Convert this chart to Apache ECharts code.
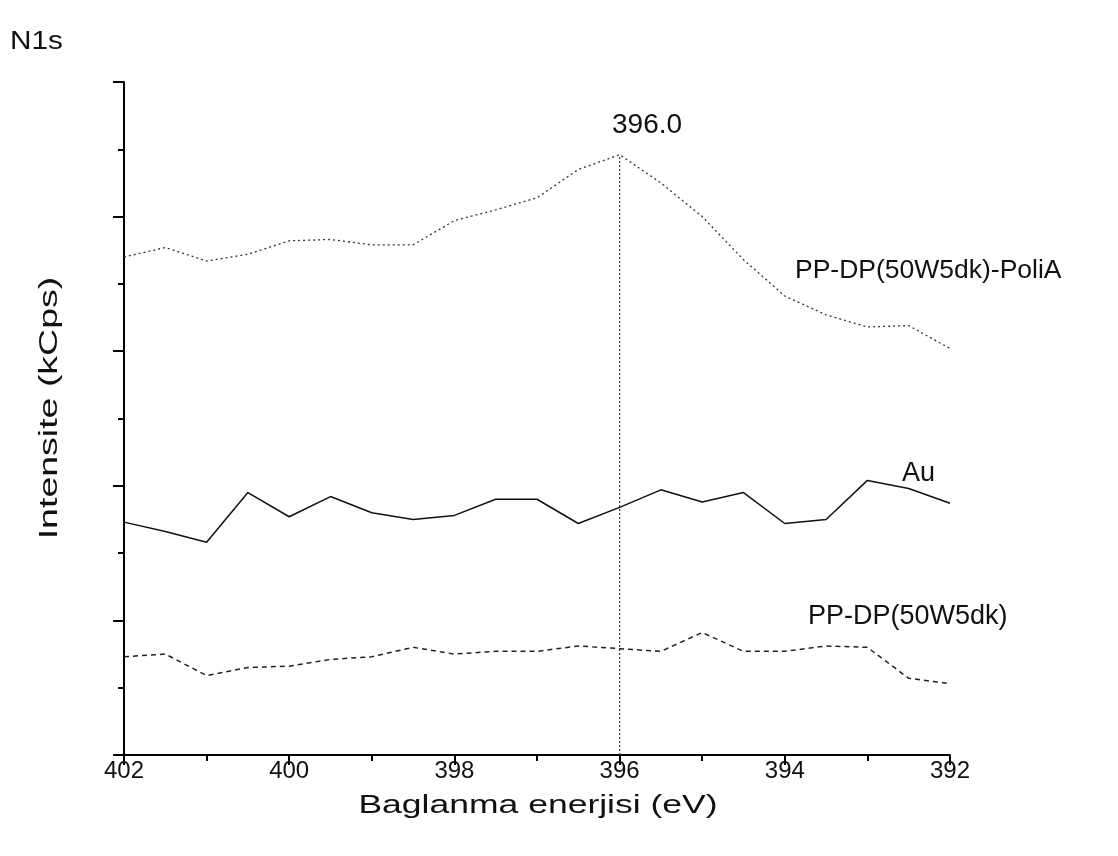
<!DOCTYPE html>
<html>
<head>
<meta charset="utf-8">
<script src="https://cdn.jsdelivr.net/npm/echarts@6/dist/echarts.min.js"></script>
<style>
html,body{margin:0;padding:0;background:#fff;}
#chart{width:1118px;height:856px;}
</style>
</head>
<body>
<div id="chart"></div>
<script>
// Binding energy (eV), 402 -> 392 in 0.5 eV steps
var energies = [402,401.5,401,400.5,400,399.5,399,398.5,398,397.5,397,396.5,396,395.5,395,394.5,394,393.5,393,392.5,392];
// Intensity (arbitrary units)
var poliA = [3.70,3.77,3.67,3.72,3.82,3.83,3.79,3.79,3.97,4.05,4.14,4.35,4.46,4.25,4.00,3.68,3.41,3.27,3.18,3.19,3.02];
var au    = [1.73,1.66,1.58,1.95,1.77,1.92,1.80,1.75,1.78,1.90,1.90,1.72,1.84,1.97,1.88,1.95,1.72,1.75,2.04,1.98,1.87];
var ppdp  = [0.73,0.75,0.59,0.65,0.66,0.71,0.73,0.80,0.75,0.77,0.77,0.81,0.79,0.77,0.91,0.77,0.77,0.81,0.80,0.57,0.53];
var peakX = 396.0;
var peakLine = [[peakX,0],[peakX,4.46]];
var xTicks = [392,394,396,398,400,402];

function pairs(xs, ys){ return xs.map(function(x,i){ return [x, ys[i]]; }); }

var font = 'Liberation Sans, Arial, sans-serif';
function label(txt, x, y, size, opts){
  opts = opts || {};
  return {
    type:'text', x:x, y:y,
    rotation: opts.rotation || 0,
    scaleX: opts.scaleX || 1, scaleY: 1,
    style:{text:txt, font:size+'px '+font, fill:'#111',
      align: opts.align || 'left', verticalAlign:'middle',
      textAlign: opts.align || 'left', textVerticalAlign:'middle'}
  };
}

var chart = echarts.init(document.getElementById('chart'));
chart.setOption({
  animation:false,
  backgroundColor:'#fff',
  grid:{left:124,right:168,top:82,bottom:101,containLabel:false},
  xAxis:{
    type:'value', inverse:true, min:392, max:402, interval:2,
    axisLine:{lineStyle:{color:'#000',width:2}},
    axisTick:{length:10,lineStyle:{color:'#000',width:2}},
    minorTick:{show:true,splitNumber:2,length:6,lineStyle:{color:'#000',width:2}},
    axisLabel:{fontFamily:font,fontSize:24,color:'#111',margin:4,
      formatter:function(v){ return xTicks.indexOf(v)>=0 ? String(v) : ''; }},
    splitLine:{show:false}
  },
  yAxis:{
    type:'value', min:0, max:5, interval:1,
    axisLine:{show:true,lineStyle:{color:'#000',width:2}},
    axisTick:{show:true,length:11,lineStyle:{color:'#000',width:2}},
    minorTick:{show:true,splitNumber:2,length:6,lineStyle:{color:'#000',width:2}},
    axisLabel:{show:false},
    splitLine:{show:false}
  },
  series:[
    {type:'line',name:'PP-DP(50W5dk)-PoliA',data:pairs(energies,poliA),symbol:'none',
     lineStyle:{color:'#333',width:1.3,type:[2,3]}},
    {type:'line',name:'Au',data:pairs(energies,au),symbol:'none',
     lineStyle:{color:'#111',width:1.5,type:'solid'}},
    {type:'line',name:'PP-DP(50W5dk)',data:pairs(energies,ppdp),symbol:'none',
     lineStyle:{color:'#222',width:1.5,type:[5,4]}},
    {type:'line',name:'peak',data:peakLine,symbol:'none',
     lineStyle:{color:'#333',width:1.2,type:[2,2]}}
  ],
  graphic:[
    label('N1s', 10, 42, 25, {scaleX:1.19}),
    label('396.0', 612, 125, 28),
    label('PP-DP(50W5dk)-PoliA', 795, 271, 26.5),
    label('Au', 902, 474, 27),
    label('PP-DP(50W5dk)', 808, 617, 27),
    label('Baglanma enerjisi (eV)', 538, 806, 25, {align:'center', scaleX:1.42}),
    label('Intensite (kCps)', 50, 408, 25, {align:'center', scaleX:1.5, rotation:Math.PI/2})
  ]
});
</script>
</body>
</html>
